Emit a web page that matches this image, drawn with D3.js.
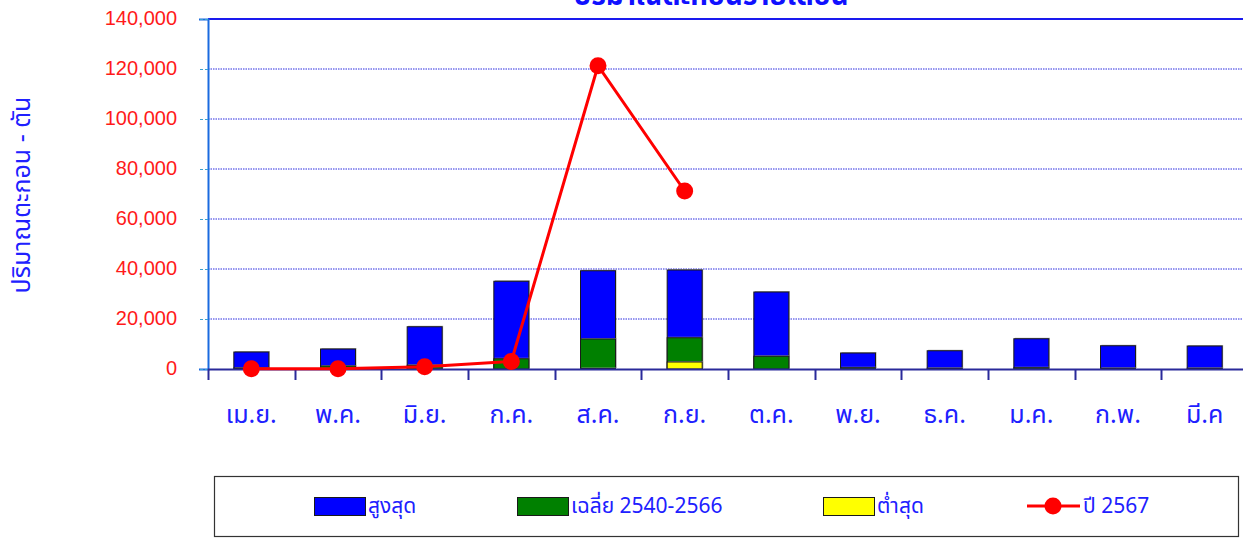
<!DOCTYPE html>
<html>
<head>
<meta charset="utf-8">
<script src="https://cdn.jsdelivr.net/npm/d3@7"></script>
<style>
  html, body { margin: 0; padding: 0; background: #fff; overflow: hidden; }
  svg { display: block; }
  text { font-family: Tahoma, "Noto Sans Thai", "Noto Sans", "DejaVu Sans", sans-serif; }
</style>
</head>
<body>
<svg id="chart" width="1243" height="538"></svg>
<script>
// Monthly sediment (tons): historical max, 2540-2566 mean, historical min, and year 2567
const months = ["เม.ย.", "พ.ค.", "มิ.ย.", "ก.ค.", "ส.ค.", "ก.ย.", "ต.ค.", "พ.ย.", "ธ.ค.", "ม.ค.", "ก.พ.", "มี.ค"];
const maxValues = [6800, 8000, 16900, 35100, 39300, 39600, 30800, 6400, 7300, 12100, 9300, 9200];
const avgValues = [400, 1200, 1500, 4100, 12000, 12500, 5100, 500, 300, 500, 300, 300];
const minValues = [0, 0, 0, 0, 200, 2800, 0, 0, 0, 0, 0, 0];
const year2567 = [100, 100, 900, 3000, 121300, 71200];
const yTicks = [0, 20000, 40000, 60000, 80000, 100000, 120000, 140000];

const titleText = "ปริมาณตะกอนรายเดือน";
const yTitle = "ปริมาณตะกอน - ตัน";
const legendLabels = ["สูงสุด", "เฉลี่ย 2540-2566", "ต่ำสุด", "ปี 2567"];

const svg = d3.select("#chart");
const plot = { left: 208, top: 19, right: 1248, bottom: 369 };

const x = d3.scaleBand().domain(months).range([plot.left, plot.right]).paddingInner(0).paddingOuter(0);
const y = d3.scaleLinear().domain([0, 140000]).range([plot.bottom, plot.top]);
const barW = 35;

// horizontal dotted grid
svg.append("g").selectAll("line").data(yTicks.slice(1, -1)).join("line")
  .attr("x1", plot.left).attr("x2", 1243)
  .attr("y1", d => y(d)).attr("y2", d => y(d))
  .attr("stroke", "#2a2ae0").attr("stroke-width", 1).attr("stroke-dasharray", "1.5,1");

// top border
svg.append("line").attr("x1", plot.left).attr("x2", 1243)
  .attr("y1", y(140000)).attr("y2", y(140000))
  .attr("stroke", "#1a1aee").attr("stroke-width", 2);

// y axis
const yAxis = svg.append("g").attr("transform", `translate(${plot.left},0)`)
  .call(d3.axisLeft(y).tickValues(yTicks).tickSize(9).tickPadding(22).tickFormat(d3.format(",")));
yAxis.select(".domain").attr("stroke", "#1a6adf").attr("stroke-width", 2);
yAxis.selectAll(".tick line").attr("stroke", "#3aa0d0").attr("stroke-dasharray", "3,2");
yAxis.selectAll(".tick text").attr("fill", "#ff1a1a").attr("font-size", 20).attr("dy", "0.25em")
  .style("font-family", "'Liberation Sans', Arial, sans-serif");

// bars: max, mean, min overlaid at the same position
const series = [
  { values: maxValues, color: "#0000ff" },
  { values: avgValues, color: "#008000" },
  { values: minValues, color: "#ffff00" }
];
series.forEach(s => {
  const g = svg.append("g");
  g.selectAll("rect.shadow").data(s.values).join("rect")
    .attr("class", "shadow")
    .attr("x", (d, i) => x(months[i]) + x.bandwidth() / 2 - barW / 2 + 1)
    .attr("y", d => y(d) - 1)
    .attr("width", barW)
    .attr("height", d => Math.max(0, y(0) - y(d)))
    .attr("fill", "#9a9a9a")
    .attr("opacity", d => d > 0 ? 0.8 : 0);
  g.selectAll("rect.bar").data(s.values).join("rect")
    .attr("class", "bar")
    .attr("x", (d, i) => x(months[i]) + x.bandwidth() / 2 - barW / 2)
    .attr("y", d => y(d))
    .attr("width", barW)
    .attr("height", d => Math.max(0, y(0) - y(d)))
    .attr("fill", s.color)
    .attr("stroke", "#1a1a1a").attr("stroke-width", d => d > 0 ? 1 : 0);
});

// x axis
const xAxis = svg.append("g").attr("transform", `translate(0,${plot.bottom})`)
  .call(d3.axisBottom(x).tickSize(0).tickPadding(36));
xAxis.select(".domain").remove();
svg.append("line").attr("x1", plot.left).attr("x2", 1243)
  .attr("y1", plot.bottom + 0.5).attr("y2", plot.bottom + 0.5)
  .attr("stroke", "#2a2a9a").attr("stroke-width", 2);
svg.append("g").selectAll("line").data(months).join("line")
  .attr("x1", d => Math.round(x(d)) + 0.5).attr("x2", d => Math.round(x(d)) + 0.5)
  .attr("y1", plot.bottom).attr("y2", plot.bottom + 11)
  .attr("stroke", "#2a2a9a").attr("stroke-width", 2);
xAxis.selectAll(".tick text").attr("fill", "#2020ff").attr("font-size", 25);

// year 2567 line
const line = d3.line().x((d, i) => x(months[i]) + x.bandwidth() / 2).y(d => y(d));
svg.append("path").datum(year2567).attr("d", line)
  .attr("fill", "none").attr("stroke", "#ff0000").attr("stroke-width", 3);
svg.append("g").selectAll("circle").data(year2567).join("circle")
  .attr("cx", (d, i) => x(months[i]) + x.bandwidth() / 2)
  .attr("cy", d => y(d))
  .attr("r", 8.5).attr("fill", "#ff0000");

// chart title, sitting at the very top edge
svg.append("text").attr("x", 711).attr("y", 5).attr("text-anchor", "middle")
  .attr("fill", "#1010ff").attr("font-size", 28).attr("font-weight", "bold").text(titleText);

// y axis title
svg.append("text").attr("transform", "translate(30,195) rotate(-90)")
  .attr("text-anchor", "middle").attr("fill", "#2020ff").attr("font-size", 25).text(yTitle);

// legend
svg.append("rect").attr("x", 214.5).attr("y", 476.5).attr("width", 1024).attr("height", 60)
  .attr("fill", "#fff").attr("stroke", "#333").attr("stroke-width", 1.2);
const legendX = [314, 517, 823, 1027];
const legendColors = ["#0000ff", "#008000", "#ffff00"];
legendColors.forEach((c, i) => {
  svg.append("rect").attr("x", legendX[i] + 0.5).attr("y", 497.5).attr("width", 51).attr("height", 18)
    .attr("fill", c).attr("stroke", "#1a1a1a").attr("stroke-width", 1);
});
svg.append("line").attr("x1", 1027).attr("x2", 1080).attr("y1", 506).attr("y2", 506)
  .attr("stroke", "#ff0000").attr("stroke-width", 3);
svg.append("circle").attr("cx", 1053).attr("cy", 506).attr("r", 8.5).attr("fill", "#ff0000");
legendLabels.forEach((t, i) => {
  svg.append("text").attr("x", legendX[i] + (i === 3 ? 56 : 54)).attr("y", 513)
    .attr("fill", "#2020ff").attr("font-size", 21).text(t);
});
</script>
</body>
</html>
